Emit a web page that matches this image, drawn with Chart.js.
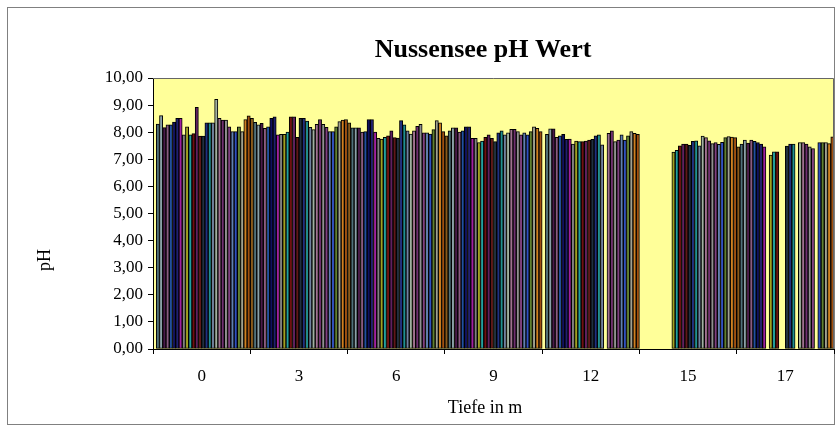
<!DOCTYPE html>
<html>
<head>
<meta charset="utf-8">
<script src="https://cdn.jsdelivr.net/npm/chart.js@4.4.1/dist/chart.umd.min.js"></script>
<style>
  body { margin: 0; background: #fff; }
  #wrap { width: 840px; height: 432px; }
</style>
</head>
<body>
<div id="wrap"><canvas id="myChart" width="840" height="432"></canvas></div>
<script>
// depth categories (Tiefe in m)
var labels = ["0", "3", "6", "9", "12", "15", "17"];

// pH per measurement, one array per depth (30 measurements each)
var depth0  = [null, 8.30, 8.61, 8.17, 8.27, 8.27, 8.37, 8.51, 8.51, 7.90, 8.20, 7.90, 7.95, 8.92, 7.86, 7.86, 8.35, 8.35, 8.35, 9.21, 8.51, 8.45, 8.45, 8.20, 8.02, 8.02, 8.20, 8.02, 8.47, 8.60];
var depth3  = [8.51, 8.36, 8.27, 8.33, 8.14, 8.20, 8.51, 8.57, 7.90, 7.92, 7.92, 8.00, 8.57, 8.57, 7.81, 8.51, 8.51, 8.41, 8.18, 8.10, 8.29, 8.47, 8.29, 8.18, 8.02, 8.02, 8.20, 8.39, 8.45, 8.47];
var depth6  = [8.35, 8.16, 8.16, 8.16, 8.00, 8.02, 8.47, 8.47, 8.00, 7.77, 7.75, 7.81, 7.87, 8.05, 7.80, 7.78, 8.43, 8.27, 8.05, 7.93, 8.05, 8.22, 8.29, 7.98, 7.98, 7.93, 8.10, 8.43, 8.35, 8.02];
var depth9  = [7.87, 8.05, 8.16, 8.16, 8.00, 8.05, 8.20, 8.20, 7.77, 7.77, 7.62, 7.67, 7.81, 7.90, 7.77, 7.65, 7.98, 8.05, 7.90, 7.98, 8.11, 8.11, 8.02, 7.90, 7.98, 7.90, 8.02, 8.20, 8.14, 8.02];
var depth12 = [null, 7.92, 8.12, 8.12, 7.81, 7.87, 7.92, 7.74, 7.75, 7.56, 7.67, 7.65, 7.65, 7.67, 7.71, 7.74, 7.87, 7.90, 7.53, null, 7.96, 8.05, 7.65, 7.71, 7.90, 7.71, 7.87, 8.02, 7.96, 7.92];
var depth15 = [null, null, null, null, null, null, null, null, null, null, 7.27, 7.33, 7.50, 7.56, 7.56, 7.52, 7.66, 7.68, 7.50, 7.86, 7.80, 7.68, 7.58, 7.62, 7.55, 7.63, 7.80, 7.84, 7.82, 7.80];
var depth17 = [7.46, 7.56, 7.71, 7.60, 7.71, 7.66, 7.62, 7.56, 7.46, null, 7.16, 7.28, 7.28, null, null, 7.49, 7.56, 7.56, null, 7.62, 7.62, 7.56, 7.46, 7.40, null, 7.62, 7.62, 7.62, 7.58, 7.83];

var colors = [
    '#8a5a1a', '#50707a', '#8aa0a8', '#4a1a4a', '#8a5a80', '#2050a0',
    '#101060', '#202070', '#a020a0', '#808080', '#a0a020', '#20a0a0',
    '#701010', '#602060', '#601818', '#203040', '#203080', '#209090',
    '#7080a0', '#a0b0a0', '#a07090', '#703070', '#909090', '#804080',
    '#6080b0', '#3050c0', '#608030', '#a0a090', '#d08020', '#a05010'
];

var byDepth = [depth0, depth3, depth6, depth9, depth12, depth15, depth17];
var datasets = [];
for (var i = 0; i < depth0.length; i++) {
    datasets.push({
        label: 'Messung ' + (i + 1),
        data: byDepth.map(function (d) { return d[i]; }),
        backgroundColor: colors[i % colors.length],
        borderColor: '#000000',
        borderWidth: 1,
        borderSkipped: false,
        categoryPercentage: 1.0,
        barPercentage: 1.0
    });
}

var serif = "'Liberation Serif', 'Times New Roman', serif";
var chartTitle = 'Nussensee pH Wert';
var xTitle = 'Tiefe in m';
var yTitle = 'pH';

// white background, outer frame, yellow plot area, titles
var frame = {
    id: 'frame',
    beforeDraw: function (chart) {
        var c = chart.ctx, a = chart.chartArea;
        c.save();
        c.fillStyle = '#ffffff';
        c.fillRect(0, 0, chart.width, chart.height);
        c.strokeStyle = '#808080';
        c.lineWidth = 1;
        c.strokeRect(7.5, 7.5, 827, 417);
        c.fillStyle = '#ffff99';
        c.fillRect(a.left, a.top, a.right - a.left, a.bottom - a.top);
        c.restore();
    },
    afterDraw: function (chart) {
        var c = chart.ctx, a = chart.chartArea;
        c.save();
        c.strokeStyle = '#666666';
        c.lineWidth = 1;
        c.beginPath();
        c.moveTo(a.left, a.top + 0.5);
        c.lineTo(a.right - 0.5, a.top + 0.5);
        c.lineTo(a.right - 0.5, a.bottom);
        c.stroke();

        c.fillStyle = '#000';
        c.textAlign = 'center';
        c.textBaseline = 'middle';
        c.font = 'bold 26px ' + serif;
        c.fillText(chartTitle, 483, 50);

        c.font = '18px ' + serif;
        c.fillText(xTitle, 485, 408);

        c.translate(45, 260);
        c.rotate(-Math.PI / 2);
        c.fillText(yTitle, 0, 0);
        c.restore();
    }
};

var ctx = document.getElementById('myChart');
var myChart = new Chart(ctx, {
    type: 'bar',
    data: { labels: labels, datasets: datasets },
    plugins: [frame],
    options: {
        responsive: false,
        animation: false,
        layout: { padding: { left: 8, right: 6, top: 78, bottom: 8 } },
        plugins: {
            legend: { display: false },
            tooltip: { enabled: false },
            title: { display: false }
        },
        scales: {
            x: {
                offset: true,
                grid: { display: true, offset: true, drawOnChartArea: false, tickLength: 5, color: '#000' },
                border: { display: true, color: '#000', width: 1 },
                ticks: { color: '#000', font: { family: serif, size: 17 }, padding: 12, maxRotation: 0 },
                afterFit: function (s) { s.height = 75; }
            },
            y: {
                min: 0,
                max: 10,
                grid: { display: true, drawOnChartArea: false, tickLength: 5, color: '#000' },
                border: { display: true, color: '#000', width: 1 },
                ticks: {
                    stepSize: 1,
                    color: '#000',
                    padding: 5,
                    font: { family: serif, size: 17 },
                    callback: function (v) { return v.toFixed(2).replace('.', ','); }
                },
                afterFit: function (s) { s.width = 145; }
            }
        }
    }
});
</script>
</body>
</html>
